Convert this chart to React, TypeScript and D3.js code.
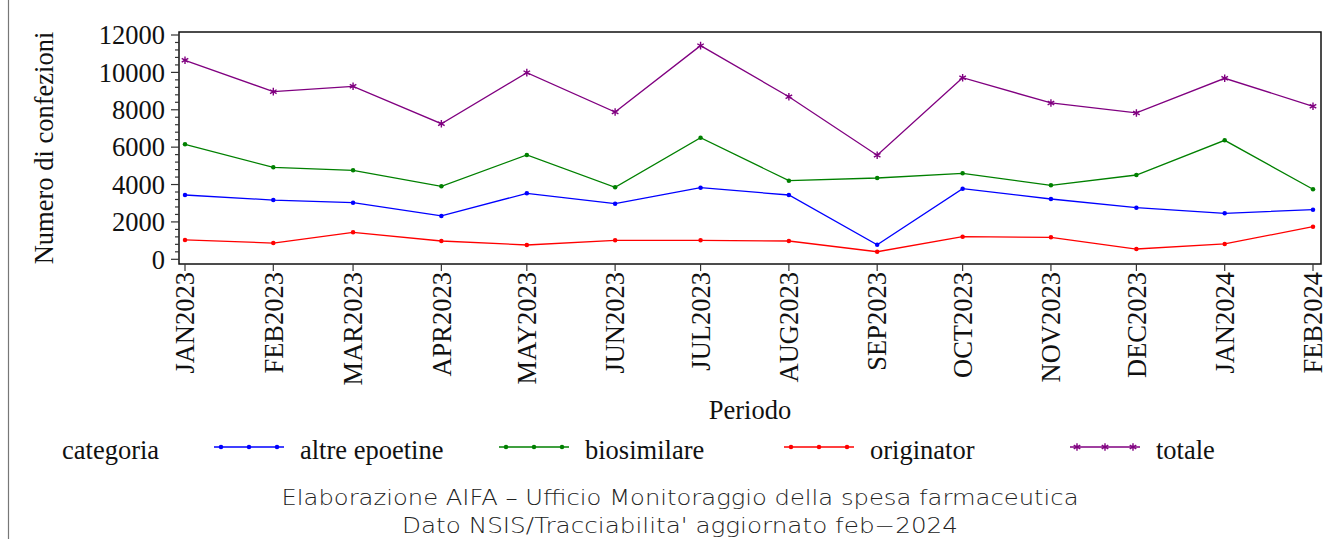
import React, { useEffect, useRef } from 'react';
import * as d3 from 'd3';

const months = [
  '2023-01', '2023-02', '2023-03', '2023-04', '2023-05', '2023-06', '2023-07',
  '2023-08', '2023-09', '2023-10', '2023-11', '2023-12', '2024-01', '2024-02',
];
const tickLabels = [
  'JAN2023', 'FEB2023', 'MAR2023', 'APR2023', 'MAY2023', 'JUN2023', 'JUL2023',
  'AUG2023', 'SEP2023', 'OCT2023', 'NOV2023', 'DEC2023', 'JAN2024', 'FEB2024',
];
const altreEpoetine = [3440, 3170, 3030, 2320, 3530, 2975, 3830, 3440, 780, 3780, 3225, 2760, 2460, 2655];
const biosimilare = [6150, 4920, 4760, 3905, 5580, 3850, 6505, 4205, 4350, 4600, 3960, 4510, 6365, 3745];
const originator = [1035, 870, 1445, 980, 765, 1015, 1015, 980, 405, 1210, 1175, 550, 820, 1745];
const totale = [10645, 8970, 9255, 7255, 9985, 7880, 11430, 8700, 5565, 9715, 8365, 7830, 9685, 8185];
const yTicks = [0, 2000, 4000, 6000, 8000, 10000, 12000];

const seriesNames = ['altre epoetine', 'biosimilare', 'originator', 'totale'];
const seriesColors = ['#0000ff', '#008000', '#ff0000', '#800080'];

function App() {
  const svgRef = useRef(null);

  useEffect(() => {
    const svg = d3.select(svgRef.current);
    svg.selectAll('*').remove();

    const width = 1336;
    const height = 539;
    const serif = '"Liberation Serif", "Times New Roman", serif';
    const fs = 26.5;

    svg.attr('width', width).attr('height', height);
    svg.append('rect').attr('width', width).attr('height', height).attr('fill', '#fff');

    // left edge line of the original image
    svg.append('line').attr('x1', 8.5).attr('x2', 8.5).attr('y1', 0).attr('y2', height)
      .attr('stroke', '#777').attr('stroke-width', 1.2);

    const parse = d3.timeParse('%Y-%m');
    const dates = months.map(m => parse(m));

    const frame = { left: 179, right: 1321, top: 32, bottom: 264 };

    const x = d3.scaleTime().domain([dates[0], dates[dates.length - 1]]).range([185, 1313]);
    const y = d3.scaleLinear().domain([0, 12000]).range([259.3, 35]);

    // frame
    svg.append('rect')
      .attr('x', frame.left).attr('y', frame.top)
      .attr('width', frame.right - frame.left).attr('height', frame.bottom - frame.top)
      .attr('fill', 'none').attr('stroke', '#111').attr('stroke-width', 1.5);

    // y axis ticks
    const minor = d3.range(0, 12001, 400);
    svg.append('g').selectAll('line').data(minor).enter().append('line')
      .attr('x1', d => (d % 2000 === 0 ? frame.left - 8 : frame.left - 4))
      .attr('x2', frame.left)
      .attr('y1', d => y(d)).attr('y2', d => y(d))
      .attr('stroke', '#333').attr('stroke-width', 1.2);

    svg.append('g').selectAll('text').data(yTicks).enter().append('text')
      .attr('x', 165).attr('y', d => y(d)).attr('dy', '0.35em')
      .attr('text-anchor', 'end')
      .attr('font-family', serif).attr('font-size', fs).attr('fill', '#111')
      .text(d => d);

    // x axis ticks and labels
    const xg = svg.append('g');
    xg.selectAll('line').data(dates).enter().append('line')
      .attr('x1', d => x(d)).attr('x2', d => x(d))
      .attr('y1', frame.bottom).attr('y2', frame.bottom + 7)
      .attr('stroke', '#333').attr('stroke-width', 1.2);
    xg.selectAll('text').data(dates).enter().append('text')
      .attr('transform', d => `translate(${x(d)},${frame.bottom + 8}) rotate(-90)`)
      .attr('dy', '0.35em')
      .attr('text-anchor', 'end')
      .attr('font-family', serif).attr('font-size', fs).attr('fill', '#111')
      .text((d, i) => tickLabels[i]);

    // axis titles
    svg.append('text')
      .attr('transform', 'translate(53,148) rotate(-90)')
      .attr('text-anchor', 'middle')
      .attr('font-family', serif).attr('font-size', fs).attr('fill', '#111')
      .text('Numero di confezioni');
    svg.append('text')
      .attr('x', 750).attr('y', 419)
      .attr('text-anchor', 'middle')
      .attr('font-family', serif).attr('font-size', fs).attr('fill', '#111')
      .text('Periodo');

    // lines
    const allSeries = [altreEpoetine, biosimilare, originator, totale];
    const line = d3.line().x((d, i) => x(dates[i])).y(d => y(d));
    const star = d3.symbol().type(d3.symbolAsterisk).size(40);
    const dot = d3.symbol().type(d3.symbolCircle).size(16);

    allSeries.forEach((values, s) => {
      const color = seriesColors[s];
      svg.append('path').datum(values)
        .attr('d', line)
        .attr('fill', 'none').attr('stroke', color).attr('stroke-width', 1.3);
      const pts = svg.append('g').selectAll('path').data(values).enter().append('path')
        .attr('transform', (d, i) => `translate(${x(dates[i])},${y(d)})`);
      if (s === 3) {
        pts.attr('d', star).attr('fill', 'none').attr('stroke', color).attr('stroke-width', 1.4);
      } else {
        pts.attr('d', dot).attr('fill', color);
      }
    });

    // legend
    const legend = svg.append('g');
    legend.append('text')
      .attr('x', 62).attr('y', 459)
      .attr('font-family', serif).attr('font-size', fs).attr('fill', '#111')
      .text('categoria');
    const legendX = [214, 499, 784, 1070];
    seriesNames.forEach((name, s) => {
      const color = seriesColors[s];
      const x0 = legendX[s];
      legend.append('line')
        .attr('x1', x0).attr('x2', x0 + 70).attr('y1', 447).attr('y2', 447)
        .attr('stroke', color).attr('stroke-width', 1.6);
      [7, 35, 63].forEach(o => {
        const p = legend.append('path').attr('transform', `translate(${x0 + o},447)`);
        if (s === 3) {
          p.attr('d', star).attr('fill', 'none').attr('stroke', color).attr('stroke-width', 1.4);
        } else {
          p.attr('d', dot).attr('fill', color);
        }
      });
      legend.append('text')
        .attr('x', x0 + 86).attr('y', 459)
        .attr('font-family', serif).attr('font-size', fs).attr('fill', '#111')
        .text(name);
    });

    // footer
    const footFont = '"DejaVu Sans", sans-serif';
    svg.append('text')
      .attr('x', 680).attr('y', 505)
      .attr('text-anchor', 'middle')
      .attr('font-family', footFont).attr('font-size', 21).attr('font-weight', 200)
      .attr('fill', '#222')
      .attr('textLength', 797).attr('lengthAdjust', 'spacingAndGlyphs')
      .text('Elaborazione AIFA \u2013 Ufficio Monitoraggio della spesa farmaceutica');
    svg.append('text')
      .attr('x', 680).attr('y', 533)
      .attr('text-anchor', 'middle')
      .attr('font-family', footFont).attr('font-size', 21).attr('font-weight', 200)
      .attr('fill', '#222')
      .attr('textLength', 556).attr('lengthAdjust', 'spacingAndGlyphs')
      .text("Dato NSIS/Tracciabilita' aggiornato feb\u22122024");
  }, []);

  return (
    <div style={{ position: 'absolute', left: 0, top: 0 }}>
      <svg ref={svgRef} style={{ display: 'block' }}></svg>
    </div>
  );
}

export default App;
